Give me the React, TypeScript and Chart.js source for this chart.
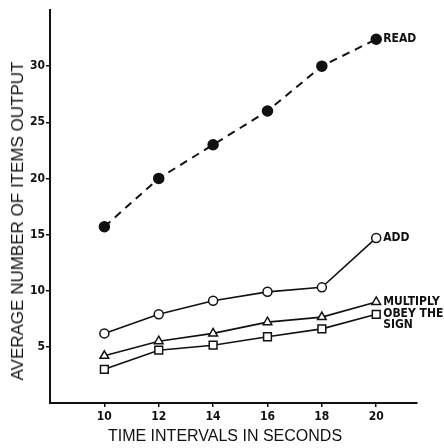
import React, { useEffect, useRef } from "react";
import { Chart, registerables } from "chart.js";

Chart.register(...registerables);

const timeIntervals = [10, 12, 14, 16, 18, 20];
const readValues = [15.7, 20.0, 23.0, 26.0, 30.0, 32.4];
const addValues = [6.2, 7.9, 9.1, 9.9, 10.3, 14.7];
const multiplyValues = [4.2, 5.5, 6.2, 7.2, 7.65, 9.0];
const obeyValues = [3.0, 4.7, 5.15, 5.9, 6.6, 7.9];
const yTickValues = [5, 10, 15, 20, 25, 30];
const seriesLabels = [["READ"], ["ADD"], ["MULTIPLY"], ["OBEY THE", "SIGN"]];
const xTitle = "TIME INTERVALS IN SECONDS";
const yTitle = "AVERAGE NUMBER OF ITEMS OUTPUT";

const INK = "#111";
const FONT = "'Liberation Sans', Arial, sans-serif";
const NARROW = "'Liberation Sans Narrow', 'DejaVu Sans Condensed', 'Liberation Sans', sans-serif";

const annotations = {
  id: "annotations",
  afterDatasetsDraw(chart: any) {
    const ctx = chart.ctx;
    ctx.save();
    ctx.setLineDash([]);
    ctx.fillStyle = INK;
    ctx.font = "bold 12px " + NARROW;
    ctx.textBaseline = "middle";
    ctx.textAlign = "left";
    chart.data.datasets.forEach((ds: any, i: number) => {
      const meta = chart.getDatasetMeta(i);
      const pt = meta.data[meta.data.length - 1];
      const lines = seriesLabels[i];
      lines.forEach((t: string, j: number) => {
        ctx.fillText(t, pt.x + 7, pt.y + j * 11);
      });
    });
    ctx.font = "16px " + FONT;
    ctx.textAlign = "center";
    ctx.fillText(xTitle, 225, 437);
    ctx.restore();
  },
};

export default function App() {
  const ref = useRef<HTMLCanvasElement>(null);
  useEffect(() => {
    const common = {
      borderColor: INK,
      pointBorderColor: INK,
      pointBorderWidth: 1.5,
      borderWidth: 1.6,
      tension: 0,
    };
    const mk = (vals: number[]) => vals.map((v, i) => ({ x: timeIntervals[i], y: v }));
    const chart = new Chart(ref.current!, {
      type: "line",
      data: {
        datasets: [
          {
            ...common,
            label: "READ",
            data: mk(readValues),
            borderDash: [8, 6],
            borderCapStyle: "butt",
            borderWidth: 2,
            pointStyle: "circle",
            pointRadius: 5,
            pointBackgroundColor: INK,
          },
          {
            ...common,
            label: "ADD",
            data: mk(addValues),
            pointStyle: "circle",
            pointRadius: 4.5,
            pointBackgroundColor: "#fff",
          },
          {
            ...common,
            label: "MULTIPLY",
            data: mk(multiplyValues),
            pointStyle: "triangle",
            pointRadius: 5,
            pointBackgroundColor: "#fff",
          },
          {
            ...common,
            label: "OBEY",
            data: mk(obeyValues),
            pointStyle: "rect",
            pointRadius: 5.5,
            pointBackgroundColor: "#fff",
          },
        ] as any,
      },
      options: {
        animation: false,
        responsive: false,
        layout: { padding: { top: 10, right: 27, left: 0, bottom: 0 } },
        plugins: { legend: { display: false }, tooltip: { enabled: false } },
        scales: {
          x: {
            type: "linear",
            min: 8,
            max: 21.5,
            afterBuildTicks: (s: any) => {
              s.ticks = timeIntervals.map((v) => ({ value: v }));
            },
            afterFit: (s: any) => {
              s.height = 45;
            },
            grid: {
              drawOnChartArea: false,
              drawTicks: true,
              tickLength: 4,
              color: INK,
              lineWidth: 1.5,
            },
            border: { display: true, color: INK, width: 2 },
            ticks: {
              color: INK,
              padding: 3,
              maxRotation: 0,
              font: { family: NARROW, size: 12, weight: "bold" },
            },
          },
          y: {
            type: "linear",
            min: 0,
            max: 35,
            afterBuildTicks: (s: any) => {
              s.ticks = yTickValues.map((v) => ({ value: v }));
            },
            afterFit: (s: any) => {
              s.width = 50;
            },
            grid: {
              drawOnChartArea: false,
              drawTicks: true,
              tickLength: 4,
              color: INK,
              lineWidth: 1.5,
            },
            border: { display: true, color: INK, width: 2 },
            ticks: {
              color: INK,
              padding: 1,
              font: { family: NARROW, size: 12, weight: "bold" },
            },
          },
        },
      } as any,
      plugins: [annotations],
    });
    return () => chart.destroy();
  }, []);
  return (
    <div style={{ position: "absolute", left: 0, top: 0, width: 444, height: 448, background: "#fff" }}>
      <canvas ref={ref} width={444} height={448} style={{ display: "block" }} />
      <div
        style={{
          position: "absolute",
          left: 18,
          top: 221,
          transform: "translate(-50%, -50%) rotate(-90deg)",
          whiteSpace: "nowrap",
          fontFamily: FONT,
          fontSize: 17,
          lineHeight: "20px",
          color: INK,
        }}
      >
        {yTitle}
      </div>
    </div>
  );
}
